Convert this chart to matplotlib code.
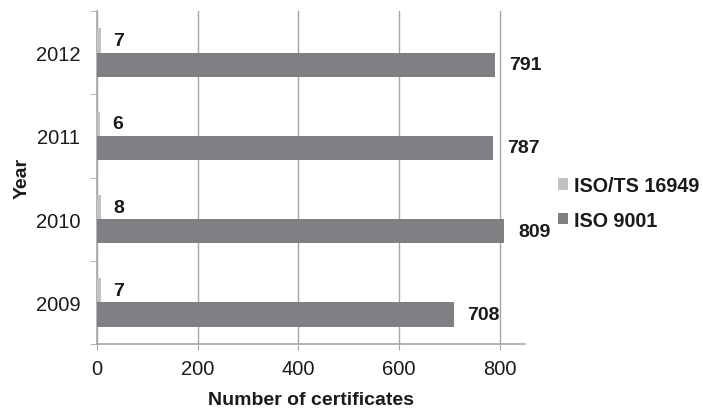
import numpy as np
import matplotlib.pyplot as plt

# Data
years = ['2009', '2010', '2011', '2012']
iso_ts_16949 = [7, 8, 6, 7]
iso_9001 = [708, 809, 787, 791]

plt.rcParams['font.family'] = ['Liberation Sans', 'DejaVu Sans']

fig = plt.figure(figsize=(7.03, 4.10), dpi=100)
ax = fig.add_axes([0.138, 0.1585, 0.609, 0.8122])

y = np.arange(len(years))
h = 0.29
light = '#c0c1c4'
dark = '#7f8084'

b1 = ax.barh(y + h / 2, iso_ts_16949, height=h, color=light, label='ISO/TS 16949', zorder=3)
b2 = ax.barh(y - h / 2, iso_9001, height=h, color=dark, label='ISO 9001', zorder=3)

ax.bar_label(b1, padding=9, fontsize=14, fontweight='bold', color='#1a1a1a')
ax.bar_label(b2, padding=10, fontsize=14, fontweight='bold', color='#1a1a1a')

ax.set_xlim(0, 850)
ax.set_ylim(-0.5, len(years) - 0.5)
ax.set_xticks([0, 200, 400, 600, 800])
ax.set_yticks(y)
ax.set_yticklabels(years)
ax.set_yticks(np.arange(-0.5, len(years), 1), minor=True)
ax.tick_params(axis='y', which='major', length=0, pad=12, labelsize=14.5, labelcolor='#1a1a1a')
ax.tick_params(axis='y', which='minor', length=5, color='#a6a6a6')
ax.tick_params(axis='x', length=4, color='#a6a6a6', labelsize=14.5, labelcolor='#1a1a1a', pad=7)

ax.grid(axis='x', color='#a6a6a6', linewidth=1, zorder=0)
for s in ['top', 'right']:
    ax.spines[s].set_visible(False)
for s in ['left', 'bottom']:
    ax.spines[s].set_color('#a6a6a6')
    ax.spines[s].set_linewidth(1.2)

ax.set_xlabel('Number of certificates', fontsize=14, fontweight='bold', color='#1a1a1a', labelpad=9)
ax.set_ylabel('Year', fontsize=14, fontweight='bold', color='#1a1a1a', labelpad=4)

leg = fig.legend(handles=[b1, b2], loc='center left', bbox_to_anchor=(0.794, 0.503),
                 frameon=False, borderpad=0, borderaxespad=0, prop={'weight': 'bold', 'size': 14.2},
                 handlelength=0.5, handleheight=0.5, handletextpad=0.3, labelspacing=0.8)
for t in leg.get_texts():
    t.set_color('#1a1a1a')

fig.savefig('out.png', dpi=100)
